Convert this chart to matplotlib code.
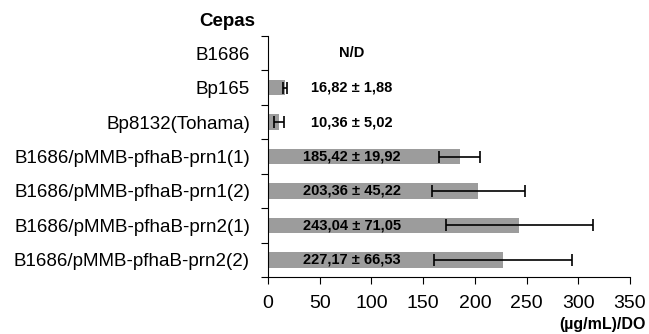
import matplotlib
matplotlib.use("Agg")
import matplotlib.pyplot as plt
import numpy as np

plt.rcParams['font.family'] = ['Liberation Sans', 'DejaVu Sans']

strains = ["B1686", "Bp165", "Bp8132(Tohama)", "B1686/pMMB-pfhaB-prn1(1)",
           "B1686/pMMB-pfhaB-prn1(2)", "B1686/pMMB-pfhaB-prn2(1)",
           "B1686/pMMB-pfhaB-prn2(2)"]
values = [1.0, 16.82, 10.36, 185.42, 203.36, 243.04, 227.17]
errors = [0.0, 1.88, 5.02, 19.92, 45.22, 71.05, 66.53]
labels = ["N/D", "16,82 \u00b1 1,88", "10,36 \u00b1 5,02", "185,42 \u00b1 19,92",
          "203,36 \u00b1 45,22", "243,04 \u00b1 71,05", "227,17 \u00b1 66,53"]
xticks = [0, 50, 100, 150, 200, 250, 300, 350]

fig = plt.figure(figsize=(6.49, 3.34), dpi=100)
ax = fig.add_axes([268/649, 1-277/334, 362/649, (277-36)/334])

y = np.arange(len(strains))
ax.barh(y, values, height=0.45, color="#9c9c9c", edgecolor="none", zorder=2)
for yi, v, e in zip(y, values, errors):
    if e > 0:
        ax.errorbar(v, yi, xerr=e, fmt="none", ecolor="black", elinewidth=1.2,
                    capsize=4, capthick=1.2, zorder=3)
for yi, t in zip(y, labels):
    ax.text(81, yi, t, ha="center", va="center", fontsize=10.5, fontweight="bold", zorder=4)

ax.set_ylim(len(strains) - 0.5, -0.5)
ax.set_xlim(0, 350)
ax.set_xticks(xticks)
ax.set_xticklabels([str(t) for t in xticks], fontsize=14)
ax.set_yticks(y)
ax.set_yticklabels(strains, fontsize=13.5)
ax.tick_params(axis="y", length=0, pad=13)
ax.set_yticks(np.arange(-0.5, len(strains), 1.0), minor=True)
ax.tick_params(axis="y", which="minor", length=5, direction="out", width=0.8)
ax.tick_params(axis="x", length=5, direction="out", width=0.8, pad=8)
for s in ["top", "right"]:
    ax.spines[s].set_visible(False)
ax.spines["left"].set_linewidth(0.8)
ax.spines["bottom"].set_linewidth(0.8)

fig.text(227/649, 1-21/334, "Cepas", ha="center", va="center", fontsize=13.5, fontweight="bold")
fig.text(646/649, 1-325/334, "(\u00b5g/mL)/DO", ha="right", va="center", fontsize=11.5, fontweight="bold")

fig.savefig("out.png", dpi=100)
